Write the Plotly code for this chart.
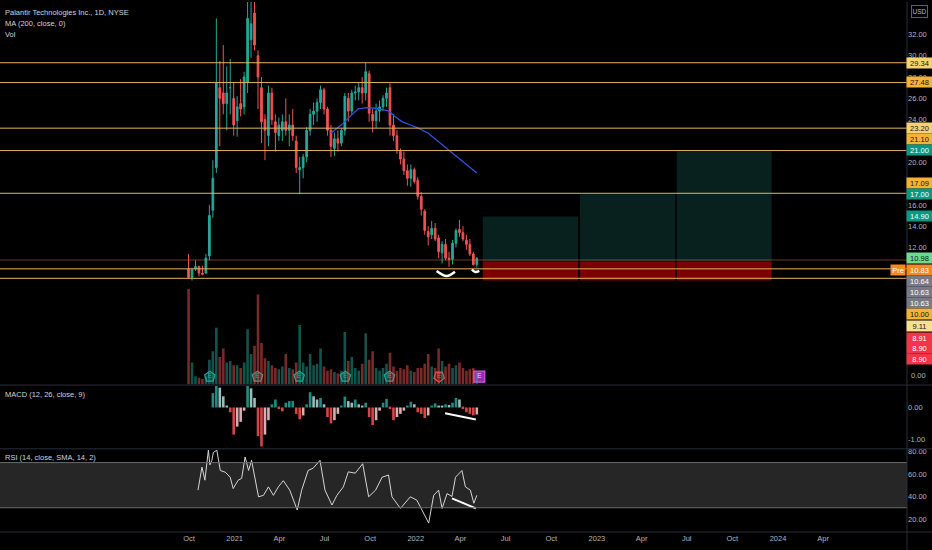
import pandas as pd
import plotly.graph_objects as go

# ---------------- data (weekly bars, Wednesday of each week) ----------------
bar_dates = pd.date_range('2020-09-30', periods=84, freq='7D')

opens = [10.0, 9.2, 10.0, 10.2, 9.6, 9.6, 11.2, 15.5, 19.5, 27.0,
         26.5, 25.5, 27.0, 26.0, 23.9, 25.5, 25.2, 27.5, 31.5, 34.0,
         30.0, 27.0, 24.0, 22.5, 26.5, 23.8, 22.5, 23.0, 23.8, 23.0,
         23.5, 22.0, 19.3, 19.5, 20.5, 23.0, 24.5, 24.8, 25.6, 26.8,
         25.0, 23.0, 21.3, 22.2, 21.8, 23.0, 26.0, 24.8, 26.5, 26.6,
         27.0, 26.5, 28.3, 24.5, 23.9, 24.8, 25.2, 26.0, 27.0, 23.5,
         22.5, 21.0, 20.3, 19.2, 18.5, 19.3, 18.3, 16.8, 15.4, 13.5,
         13.2, 13.8, 12.9, 11.5, 12.3, 11.0, 10.9, 12.4, 13.7, 13.4,
         12.7, 12.3, 11.4, 10.4]
highs = [11.4, 10.1, 10.8, 10.3, 10.3, 11.4, 16.0, 20.2, 33.5, 29.5,
         31.0, 29.0, 29.7, 27.5, 26.2, 27.8, 28.5, 45.0, 36.0, 39.0,
         30.5, 28.0, 24.5, 27.2, 27.0, 24.5, 24.2, 24.5, 26.0, 24.5,
         25.0, 22.5, 20.5, 20.8, 23.3, 25.0, 25.6, 26.0, 27.2, 27.0,
         25.2, 23.5, 22.8, 23.0, 23.2, 26.5, 26.5, 26.8, 27.2, 27.5,
         28.0, 29.3, 28.6, 25.0, 25.5, 25.8, 26.3, 27.0, 27.4, 24.5,
         23.0, 21.3, 21.0, 19.8, 19.8, 19.5, 18.6, 17.2, 15.6, 14.0,
         14.5, 14.3, 13.2, 12.6, 12.8, 11.6, 12.7, 13.8, 14.6, 14.0,
         13.2, 12.8, 11.6, 11.1]
lows = [9.1, 8.9, 9.8, 9.3, 9.4, 9.5, 10.8, 14.8, 19.0, 21.5,
        24.5, 23.0, 24.5, 22.5, 22.4, 24.3, 24.5, 26.5, 29.8, 30.5,
        25.0, 21.8, 20.2, 21.5, 23.5, 21.0, 22.0, 22.0, 22.5, 21.5,
        22.0, 19.0, 17.0, 18.5, 20.0, 22.5, 23.5, 23.8, 25.0, 24.5,
        22.5, 20.5, 20.6, 21.0, 21.5, 22.5, 23.8, 24.5, 25.8, 25.8,
        25.5, 25.8, 23.8, 22.8, 23.2, 23.8, 24.8, 25.2, 22.5, 22.0,
        20.8, 19.8, 18.8, 17.8, 17.7, 18.0, 16.5, 15.0, 13.2, 12.2,
        12.8, 12.6, 11.0, 10.5, 10.8, 10.2, 10.4, 12.0, 13.0, 12.6,
        11.8, 11.2, 10.3, 10.1]
closes = [9.2, 9.9, 10.2, 9.6, 9.5, 11.0, 15.0, 18.5, 27.5, 26.0,
          25.5, 26.5, 27.0, 23.5, 25.2, 25.0, 28.0, 33.5, 33.0, 31.0,
          28.0, 23.8, 23.0, 26.5, 24.0, 22.8, 23.5, 23.8, 23.0, 23.5,
          22.5, 19.5, 19.5, 20.5, 23.0, 24.5, 24.8, 25.6, 26.8, 25.0,
          23.0, 21.5, 22.2, 21.8, 23.0, 26.2, 24.8, 26.5, 26.6, 27.0,
          26.5, 28.5, 24.6, 23.9, 24.8, 25.2, 26.0, 26.5, 23.5, 22.5,
          21.2, 20.3, 19.2, 18.5, 19.3, 18.2, 16.8, 15.6, 13.6, 13.0,
          13.8, 12.8, 11.6, 12.3, 11.0, 10.9, 12.4, 13.6, 13.4, 12.8,
          12.3, 11.4, 10.4, 10.98]
volumes = [345, 80, 30, 25, 20, 30, 90, 120, 205, 100,
           130, 80, 85, 70, 70, 60, 80, 200, 110, 140,
           325, 150, 95, 85, 70, 60, 55, 65, 110, 60,
           55, 80, 215, 80, 65, 110, 70, 75, 130, 65,
           50, 55, 45, 40, 50, 190, 85, 100, 60, 50,
           75, 185, 90, 120, 60, 50, 60, 75, 115, 65,
           50, 60, 55, 70, 50, 45, 60, 60, 75, 110,
           65, 60, 130, 85, 65, 75, 60, 70, 80, 60,
           50, 55, 60, 45]
macd_hist = [None] * 7 + [
    0.45, 0.68, 0.62, 0.35, 0.05, -0.15, -0.85, -0.6, -0.45, -0.1,
    0.68, 0.6, 0.3, -0.9, -1.22, -0.85, -0.4, 0.1, 0.25, -0.05,
    -0.12, 0.15, 0.2, 0.2, -0.2, -0.37, -0.25, 0.1, 0.48, 0.35,
    0.25, 0.3, 0.1, -0.3, -0.5, -0.4, -0.2, 0.05, 0.34, 0.2,
    0.15, 0.25, 0.1, 0.05, 0.15, -0.3, -0.55, -0.4, -0.1, 0.15,
    0.27, -0.05, -0.4, -0.3, -0.2, -0.1, 0.05, 0.18, 0.1, -0.15,
    -0.2, -0.33, -0.25, 0.05, 0.13, 0.05, 0.03, 0.1, 0.08, 0.15,
    0.3, 0.25, -0.05, -0.15, -0.2, -0.25, -0.22]

ma_dates = ['2021-07-14', '2021-08-04', '2021-08-25', '2021-09-07', '2021-09-24', '2021-10-11',
            '2021-10-28', '2021-11-07', '2021-11-20', '2021-12-04', '2021-12-24', '2022-01-06',
            '2022-01-26', '2022-02-15', '2022-03-07', '2022-03-27', '2022-04-16', '2022-05-04']
ma_values = [22.73, 23.51, 24.45, 25.01, 25.13, 25.07, 24.92, 24.82, 24.29, 23.82, 23.45, 23.2,
             22.73, 21.95, 21.18, 20.39, 19.62, 18.99]

rsi_dates = ['2020-10-19', '2020-10-27', '2020-11-02', '2020-11-09', '2020-11-12', '2020-11-16',
             '2020-11-19', '2020-11-26', '2020-12-03', '2020-12-13', '2020-12-23', '2020-12-29',
             '2021-01-08', '2021-01-15', '2021-01-22', '2021-01-29', '2021-02-04', '2021-02-11',
             '2021-02-18', '2021-02-28', '2021-03-10', '2021-03-20', '2021-03-30', '2021-04-09',
             '2021-04-22', '2021-05-07', '2021-05-16', '2021-05-29', '2021-06-08', '2021-06-22',
             '2021-07-02', '2021-07-16', '2021-07-26', '2021-08-08', '2021-08-18', '2021-09-01',
             '2021-09-16', '2021-09-28', '2021-10-12', '2021-10-25', '2021-11-07', '2021-11-14',
             '2021-12-01', '2021-12-21', '2022-01-03', '2022-01-10', '2022-01-27', '2022-02-06',
             '2022-02-16', '2022-02-23', '2022-03-05', '2022-03-15', '2022-03-22', '2022-04-04',
             '2022-04-11', '2022-04-21', '2022-04-28', '2022-05-04']
rsi_values = [45.6, 66, 54.4, 81, 68, 72, 79, 81, 63, 61.5, 57, 47, 54.4, 56, 75, 63, 72, 57,
              39.7, 41, 48.5, 41, 48.5, 54, 45.6, 28, 45.6, 63, 65, 72, 45.6, 32.4, 41, 48.5,
              61.8, 60.6, 69, 39.7, 45.6, 57, 59, 39.7, 29.4, 39.7, 36.8, 30.9, 16.4, 41, 45.6,
              29.4, 42.6, 40, 57, 63, 48.5, 45.6, 34, 41]

# drawings on the chart
hline_levels = [29.34, 27.48, 23.20, 21.10, 17.09, 10.00, 9.11]
pre_price = 10.83
pos_entry = 10.64
pos_stop = 8.90
pos_targets = [14.90, 17.00, 21.00]
pos_start = ['2022-05-16', '2022-11-28', '2023-06-11']
pos_end = ['2022-11-24', '2023-06-08', '2023-12-19']
arc1_dates = ['2022-02-12', '2022-03-04', '2022-03-21']
arc1_values = [9.8, 9.33, 9.73]
arc2_dates = ['2022-04-24', '2022-05-01', '2022-05-09']
arc2_values = [9.95, 9.7, 9.8]
macd_tl_dates = ['2022-03-01', '2022-05-02']
macd_tl_values = [-0.18, -0.375]
rsi_tl_dates = ['2022-03-15', '2022-05-02']
rsi_tl_values = [38.3, 29.4]
earn_dates = ['2020-11-12', '2021-02-16', '2021-05-11', '2021-08-12', '2021-11-09', '2022-02-17', '2022-05-09']
earn_kind = ['beat', 'beat', 'beat', 'beat', 'beat', 'miss', 'next']

x_tick_dates = ['2020-10-01', '2021-01-01', '2021-04-01', '2021-07-01', '2021-10-01', '2022-01-01',
                '2022-04-01', '2022-07-01', '2022-10-01', '2023-01-01', '2023-04-01', '2023-07-01',
                '2023-10-01', '2024-01-01', '2024-04-01']
x_tick_text = ['Oct', '2021', 'Apr', 'Jul', 'Oct', '2022', 'Apr', 'Jul', 'Oct', '2023', 'Apr', 'Jul',
               'Oct', '2024', 'Apr']
# 10, 18 and 22 sit under the price tags in the original, so they are left out
price_ticks = [12, 14, 16, 20, 24, 26, 28, 30, 32]

# price-scale tags on the right edge
tag_text = ['29.34', '27.48', '23.20', '21.10', '21.00', '17.09', '17.00', '14.90', '10.98',
            '10.83', '10.64', '10.63', '10.63', '10.00', '9.11', '8.91', '8.90', '8.90']

# ---------------- styling / layout helpers ----------------
W, H = 932, 550
PLOT_H = 532.0
FONT = 'Liberation Sans, Arial, sans-serif'
FS = 7.5
UP, DOWN = '#26a69a', '#ef5350'
TXT = '#b2b5be'
SEP = '#2a2e39'


def py(ypx):
    return 1 - ypx / PLOT_H


def px_x(xpx):
    return xpx / 907.0


tag_y = [61, 80, 126, 138, 149, 182, 193, 215, 257, 269, 280, 291, 302, 313, 325, 337, 347, 358]
tag_bg = ['#f7d36f', '#f5b335', '#f7d36f', '#f5b335', '#089981', '#f5b335', '#089981', '#089981',
          '#6fd98f', '#f7891f', '#787b86', '#787b86', '#787b86', '#f5b335', '#f8e08e',
          '#f23645', '#f23645', '#f23645']
tag_fg = ['#131722', '#131722', '#131722', '#131722', '#ffffff', '#131722', '#ffffff', '#ffffff',
          '#131722', '#ffffff', '#ffffff', '#ffffff', '#ffffff', '#131722', '#131722',
          '#ffffff', '#ffffff', '#ffffff']

fig = go.Figure()

# volume (overlay on price pane)
vol_colors = ['rgba(38,166,154,0.5)' if c >= o else 'rgba(239,83,80,0.5)' for o, c in zip(opens, closes)]
fig.add_trace(go.Bar(x=bar_dates, y=volumes, marker=dict(color=vol_colors, line=dict(width=0)),
                     yaxis='y2', showlegend=False, hoverinfo='skip'))

# candles
fig.add_trace(go.Candlestick(x=bar_dates, open=opens, high=highs, low=lows, close=closes,
                             increasing=dict(line=dict(color=UP, width=1), fillcolor=UP),
                             decreasing=dict(line=dict(color=DOWN, width=1), fillcolor=DOWN),
                             whiskerwidth=0, showlegend=False, yaxis='y'))

# MA 200
fig.add_trace(go.Scatter(x=ma_dates, y=ma_values, mode='lines', line=dict(color='#2f55d9', width=1.3),
                         showlegend=False, yaxis='y', hoverinfo='skip'))

# white arcs under the lows
for d, v in [(arc1_dates, arc1_values), (arc2_dates, arc2_values)]:
    fig.add_trace(go.Scatter(x=d, y=v, mode='lines', line=dict(color='white', width=2.5, shape='spline'),
                             showlegend=False, yaxis='y', hoverinfo='skip'))

# earnings icons
EARN_Y = 29.34 - (376 - 61) / 10.694
earn_style = {'beat': ('pentagon', '#0b2a27', UP, UP),
              'miss': ('pentagon', '#2e0b0d', DOWN, DOWN),
              'next': ('square', '#9c27b0', '#d05ce3', '#f3d9f7')}
for kind in ['beat', 'miss', 'next']:
    ds = [d for d, k in zip(earn_dates, earn_kind) if k == kind]
    sym, fill, edge, tc = earn_style[kind]
    fig.add_trace(go.Scatter(x=ds, y=[EARN_Y] * len(ds), mode='markers+text', text=['E'] * len(ds),
                             textposition='middle center', textfont=dict(size=7, color=tc, family=FONT),
                             marker=dict(symbol=sym, size=11, color=fill, line=dict(color=edge, width=1.2),
                                         angle=180 if kind == 'miss' else 0),
                             showlegend=False, yaxis='y', hoverinfo='skip'))

# MACD histogram (4-colour scheme)
hist_colors = []
prev = 0
for v in macd_hist:
    if v is None:
        hist_colors.append('rgba(0,0,0,0)')
        continue
    if v >= 0:
        hist_colors.append('#26a69a' if v >= prev else '#b2dfdb')
    else:
        hist_colors.append('#ff5252' if v < prev else '#ffcdd2')
    prev = v
fig.add_trace(go.Bar(x=bar_dates, y=macd_hist, marker=dict(color=hist_colors, line=dict(width=0)),
                     opacity=0.85, yaxis='y3', showlegend=False, hoverinfo='skip'))
fig.add_trace(go.Scatter(x=macd_tl_dates, y=macd_tl_values, mode='lines', line=dict(color='white', width=2),
                         yaxis='y3', showlegend=False, hoverinfo='skip'))

# RSI
fig.add_trace(go.Scatter(x=rsi_dates, y=rsi_values, mode='lines', line=dict(color='#d6d6d6', width=1),
                         yaxis='y4', showlegend=False, hoverinfo='skip'))
fig.add_trace(go.Scatter(x=rsi_tl_dates, y=rsi_tl_values, mode='lines', line=dict(color='white', width=2),
                         yaxis='y4', showlegend=False, hoverinfo='skip'))

shapes = []
# long-position boxes
for s, e, t in zip(pos_start, pos_end, pos_targets):
    shapes.append(dict(type='rect', xref='x', yref='y', x0=s, x1=e, y0=pos_entry, y1=t,
                       fillcolor='rgba(38,166,154,0.2)', line=dict(width=0), layer='below'))
    shapes.append(dict(type='rect', xref='x', yref='y', x0=s, x1=e, y0=pos_stop, y1=pos_entry,
                       fillcolor='rgba(200,0,0,0.62)', line=dict(width=0), layer='below'))
# horizontal levels
for lv in hline_levels:
    shapes.append(dict(type='line', xref='paper', yref='y', x0=0, x1=1, y0=lv, y1=lv,
                       line=dict(color='#e3b562', width=1)))
shapes.append(dict(type='line', xref='paper', yref='y', x0=0, x1=1, y0=pre_price, y1=pre_price,
                   line=dict(color='rgba(245,140,40,0.45)', width=1)))
# RSI band
shapes.append(dict(type='rect', xref='paper', yref='y4', x0=0, x1=1, y0=30, y1=70,
                   fillcolor='#262626', line=dict(width=0), layer='below'))
for lv in [30, 70]:
    shapes.append(dict(type='line', xref='paper', yref='y4', x0=0, x1=1, y0=lv, y1=lv,
                       line=dict(color='#6a6a6a', width=1)))
# pane separators and price-scale border
for ypx in [384.5, 448.5, 532]:
    shapes.append(dict(type='line', xref='paper', yref='paper', x0=0, x1=W / 907.0, y0=py(ypx), y1=py(ypx),
                       line=dict(color=SEP, width=1)))
shapes.append(dict(type='line', xref='paper', yref='paper', x0=1, x1=1, y0=py(550), y1=1,
                   line=dict(color=SEP, width=1)))

annotations = []
for i, t in enumerate(['Palantir Technologies Inc., 1D, NYSE', 'MA (200, close, 0)', 'Vol']):
    annotations.append(dict(x=px_x(3), y=py(11 + 11 * i), xref='paper', yref='paper', text=t,
                            showarrow=False, xanchor='left', yanchor='middle',
                            font=dict(family=FONT, size=FS, color='#d1d4dc')))
annotations.append(dict(x=px_x(3), y=py(394), xref='paper', yref='paper', text='MACD (12, 26, close, 9)',
                        showarrow=False, xanchor='left', yanchor='middle',
                        font=dict(family=FONT, size=FS, color='#d1d4dc')))
annotations.append(dict(x=px_x(3), y=py(457), xref='paper', yref='paper', text='RSI (14, close, SMA, 14, 2)',
                        showarrow=False, xanchor='left', yanchor='middle',
                        font=dict(family=FONT, size=FS, color='#d1d4dc')))
for t, ypx, bg, fg in zip(tag_text, tag_y, tag_bg, tag_fg):
    annotations.append(dict(x=px_x(919.5), y=py(ypx), xref='paper', yref='paper', text=t, showarrow=False,
                            xanchor='center', yanchor='middle', bgcolor=bg, width=25, height=10, borderpad=0,
                            font=dict(family=FONT, size=FS, color=fg)))
annotations.append(dict(x=px_x(898), y=py(269), xref='paper', yref='paper', text='Pre', showarrow=False,
                        xanchor='center', yanchor='middle', bgcolor='#f7891f', width=14, height=10, borderpad=0,
                        font=dict(family=FONT, size=FS, color='white')))
annotations.append(dict(x=px_x(919), y=py(10), xref='paper', yref='paper', text='USD', showarrow=False,
                        xanchor='center', yanchor='middle', bgcolor='#000000', bordercolor='#5d606b',
                        borderwidth=1, width=15, height=11, borderpad=0,
                        font=dict(family=FONT, size=6.5, color=TXT)))
annotations.append(dict(x=px_x(909), y=py(375), xref='paper', yref='paper', text='0.00', showarrow=False,
                        xanchor='left', yanchor='middle', font=dict(family=FONT, size=FS, color=TXT)))

axis_common = dict(showgrid=False, zeroline=False, showline=False, ticks='',
                   tickfont=dict(family=FONT, size=FS, color=TXT))

fig.update_layout(
    width=W, height=H,
    margin=dict(l=0, r=25, t=0, b=18),
    paper_bgcolor='#000000', plot_bgcolor='#000000',
    showlegend=False, bargap=0.25,
    shapes=shapes, annotations=annotations,
    xaxis=dict(type='date', range=['2019-09-16', '2024-09-17'], anchor='y4',
               tickvals=x_tick_dates, ticktext=x_tick_text, rangeslider=dict(visible=False), **axis_common),
    yaxis=dict(domain=[py(384), 1], range=[-0.86, 35.04], side='right', anchor='x',
               tickvals=price_ticks, ticktext=['%.2f' % v for v in price_ticks], **axis_common),
    yaxis2=dict(overlaying='y', range=[0, 384 * 3.6], visible=False),
    yaxis3=dict(domain=[py(448), py(385)], range=[-1.281, 0.6875], side='right', anchor='x',
                tickvals=[0, -1], ticktext=['0.00', '-1.00'], **axis_common),
    yaxis4=dict(domain=[0, py(449)], range=[8.53, 81.76], side='right', anchor='x',
                tickvals=[20, 40, 60, 80], ticktext=['20.00', '40.00', '60.00', '80.00'], **axis_common),
)

fig.write_html('out.html', config={'displayModeBar': False},
               post_script="document.body.style.margin='0';document.body.style.overflow='hidden';")
